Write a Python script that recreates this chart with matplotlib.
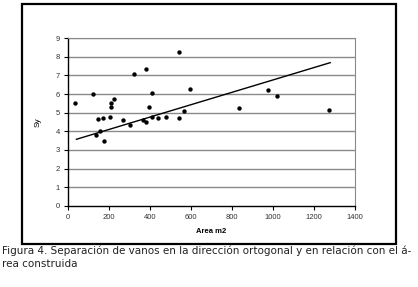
import matplotlib.pyplot as plt
from matplotlib.patches import Rectangle

# datos: area construida (m2) vs separacion Sy
area = [34, 120, 138, 144, 156, 169, 177, 203, 208, 210, 226, 267, 303, 324,
        364, 379, 382, 395, 411, 411, 439, 480, 543, 543, 567, 595,
        834, 977, 1021, 1275]
sy = [5.50, 6.02, 3.80, 4.66, 4.02, 4.73, 3.49, 4.79, 5.54, 5.32, 5.74, 4.59,
      4.35, 7.10, 4.62, 4.50, 7.35, 5.32, 6.04, 4.75, 4.70, 4.78, 8.28, 4.73,
      5.09, 6.27, 5.25, 6.22, 5.91, 5.13]

# linea de tendencia (extremos leidos)
trend_x = [41, 1279]
trend_y = [3.57, 7.69]

x_ticks = [0, 200, 400, 600, 800, 1000, 1200, 1400]
y_ticks = [0, 1, 2, 3, 4, 5, 6, 7, 8, 9]

caption = ("Figura 4. Separación de vanos en la dirección ortogonal y en relación con el á-\n"
           "rea construida")

W, H = 418, 287
fig = plt.figure(figsize=(W / 100, H / 100), dpi=100)
fig.patch.set_facecolor('white')

# marco del grafico (estilo excel)
fig.patches.append(Rectangle((21.5 / W, 1 - 244 / H), 374.5 / W, 240 / H,
                             transform=fig.transFigure, fill=False,
                             edgecolor='black', linewidth=1.6))

ax = fig.add_axes([68 / W, 1 - 205.7 / H, 287 / W, 167.4 / H])
ax.set_xlim(0, 1400)
ax.set_ylim(0, 9)

for v in y_ticks[1:]:
    ax.axhline(v, color='#8a8a8a', linewidth=1.0, zorder=1)

ax.scatter(area, sy, s=10, color='black', zorder=3, linewidths=0)
ax.plot(trend_x, trend_y, color='black', linewidth=1.0, zorder=2)

ax.set_xticks(x_ticks)
ax.set_yticks(y_ticks)
ax.tick_params(direction='out', length=3, width=0.8, labelsize=5.5,
               labelcolor='#333333', pad=3, color='black')
for lab in ax.get_xticklabels() + ax.get_yticklabels():
    lab.set_family('Liberation Sans')

ax.spines['left'].set_color('black')
ax.spines['bottom'].set_color('black')
ax.spines['left'].set_linewidth(1.0)
ax.spines['bottom'].set_linewidth(1.0)
ax.spines['top'].set_color('#8a8a8a')
ax.spines['right'].set_color('#8a8a8a')

ax.set_xlabel('Area m2', fontsize=5.5, fontweight='bold', family='Liberation Sans', labelpad=5)
ax.set_ylabel('Sy', fontsize=6, family='Liberation Sans', labelpad=10)

fig.text(2 / W, 1 - 246 / H, caption, fontsize=7.45, family='DejaVu Sans', color='#222222',
         va='top', ha='left', linespacing=1.3)

fig.savefig('out.png', dpi=100)
